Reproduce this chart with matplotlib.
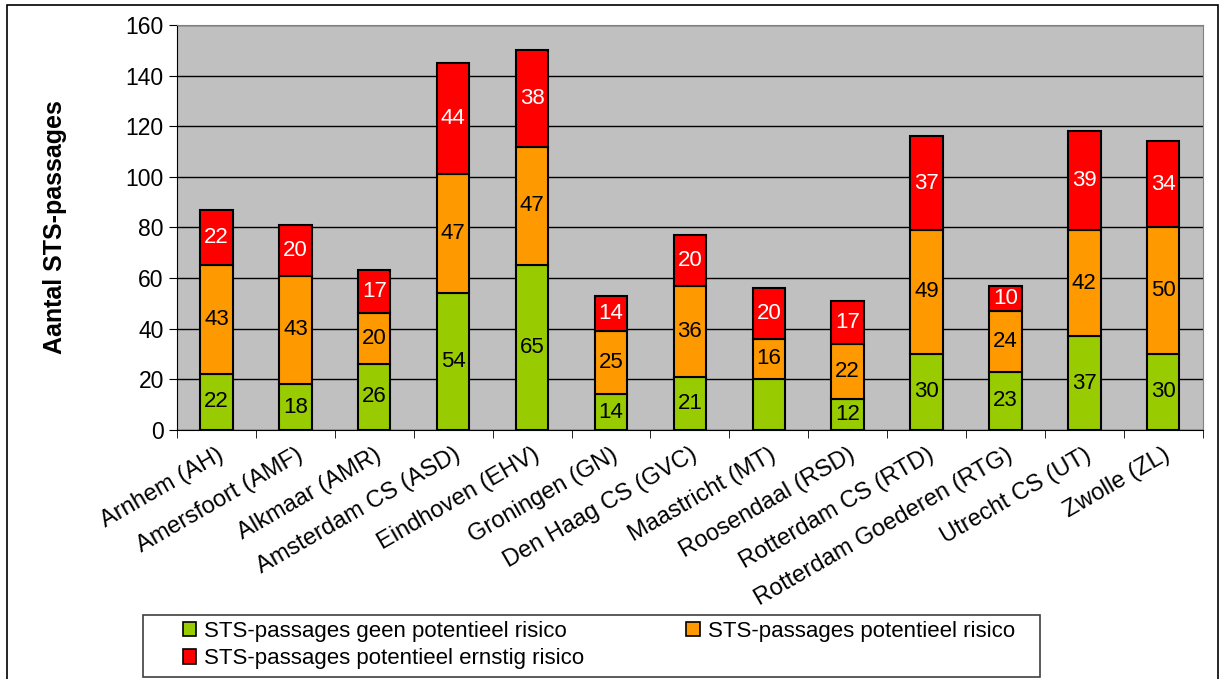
import matplotlib.pyplot as plt
import numpy as np
from matplotlib.patches import Rectangle, Patch

plt.rcParams['font.family'] = ['Liberation Sans', 'DejaVu Sans']

# data
stations = ['Arnhem (AH)', 'Amersfoort (AMF)', 'Alkmaar (AMR)', 'Amsterdam CS (ASD)',
            'Eindhoven (EHV)', 'Groningen (GN)', 'Den Haag CS (GVC)', 'Maastricht (MT)',
            'Roosendaal (RSD)', 'Rotterdam CS (RTD)', 'Rotterdam Goederen (RTG)',
            'Utrecht CS (UT)', 'Zwolle (ZL)']
geen_risico = [22, 18, 26, 54, 65, 14, 21, 20, 12, 30, 23, 37, 30]
potentieel = [43, 43, 20, 47, 47, 25, 36, 16, 22, 49, 24, 42, 50]
ernstig = [22, 20, 17, 44, 38, 14, 20, 20, 17, 37, 10, 39, 34]
# the green label of Maastricht is not shown in the original
geen_labels = ['22', '18', '26', '54', '65', '14', '21', '', '12', '30', '23', '37', '30']

series_names = ['STS-passages geen potentieel risico',
                'STS-passages potentieel risico',
                'STS-passages potentieel ernstig risico']
colors = ['#99CC00', '#FF9900', '#FF0000']

fig = plt.figure(figsize=(12.21, 6.79), dpi=100)
ax = fig.add_axes([0.145, 0.367, 0.84, 0.596])
ax.set_facecolor('#C0C0C0')

x = np.arange(len(stations))
w = 0.41
bottom = np.zeros(len(stations))
for vals, col, name in zip([geen_risico, potentieel, ernstig], colors, series_names):
    ax.bar(x, vals, w, bottom=bottom, color=col, edgecolor='black', linewidth=1.5,
           label=name, zorder=3)
    bottom += np.array(vals)

# value labels
b = np.zeros(len(stations))
for vals, lbls, tc in [(geen_risico, geen_labels, 'black'),
                       (potentieel, [str(v) for v in potentieel], 'black'),
                       (ernstig, [str(v) for v in ernstig], 'white')]:
    for i, (v, l) in enumerate(zip(vals, lbls)):
        if l:
            ax.text(x[i], b[i] + v / 2, l, ha='center', va='center', fontsize=16,
                    color=tc, zorder=4)
    b += np.array(vals)

ax.set_xlim(-0.5, len(stations) - 0.5)
ax.set_ylim(0, 160)
ax.set_yticks(range(0, 161, 20))
ax.yaxis.grid(True, color='black', linewidth=1, zorder=1)
ax.set_xticks(x)
ax.set_xticklabels(stations, rotation=30, ha='right', rotation_mode='anchor', fontsize=17)
ax.tick_params(axis='x', length=0, pad=10)
ax.set_xticks(np.arange(-0.5, len(stations), 1), minor=True)
ax.tick_params(axis='x', which='minor', length=6, direction='out')
ax.tick_params(axis='y', labelsize=16.5, length=6, direction='out')
for s in ['top', 'right']:
    ax.spines[s].set_color('#808080')
ax.set_ylabel('Aantal STS-passages', fontsize=18, fontweight='bold')
ax.yaxis.set_label_coords(-0.107, 0.5)

# legend filled row by row as in the original
order = [0, 2, 1]
handles = [Patch(facecolor=colors[i], edgecolor='black', linewidth=1.2) for i in order]
leg = fig.legend(handles, [series_names[i] for i in order], loc='center left', ncol=2,
                 bbox_to_anchor=(183 / 1221, 1 - 645 / 679),
                 fontsize=16, frameon=False,
                 handlelength=0.6, handleheight=0.6, handletextpad=0.35,
                 borderaxespad=0, labelspacing=0.3, borderpad=0,
                 columnspacing=4.6)

# legend box and outer frame round the whole chart
fig.patches.append(Rectangle((143 / 1221, 2 / 679), 897 / 1221, 62 / 679,
                             transform=fig.transFigure, fill=False,
                             edgecolor='#404040', linewidth=1.2))
fig.patches.append(Rectangle((7 / 1221, -0.01), 1211 / 1221, 1.0 - 5 / 679 + 0.01,
                             transform=fig.transFigure, fill=False,
                             edgecolor='black', linewidth=1.2))

fig.savefig('out.png', dpi=100)
